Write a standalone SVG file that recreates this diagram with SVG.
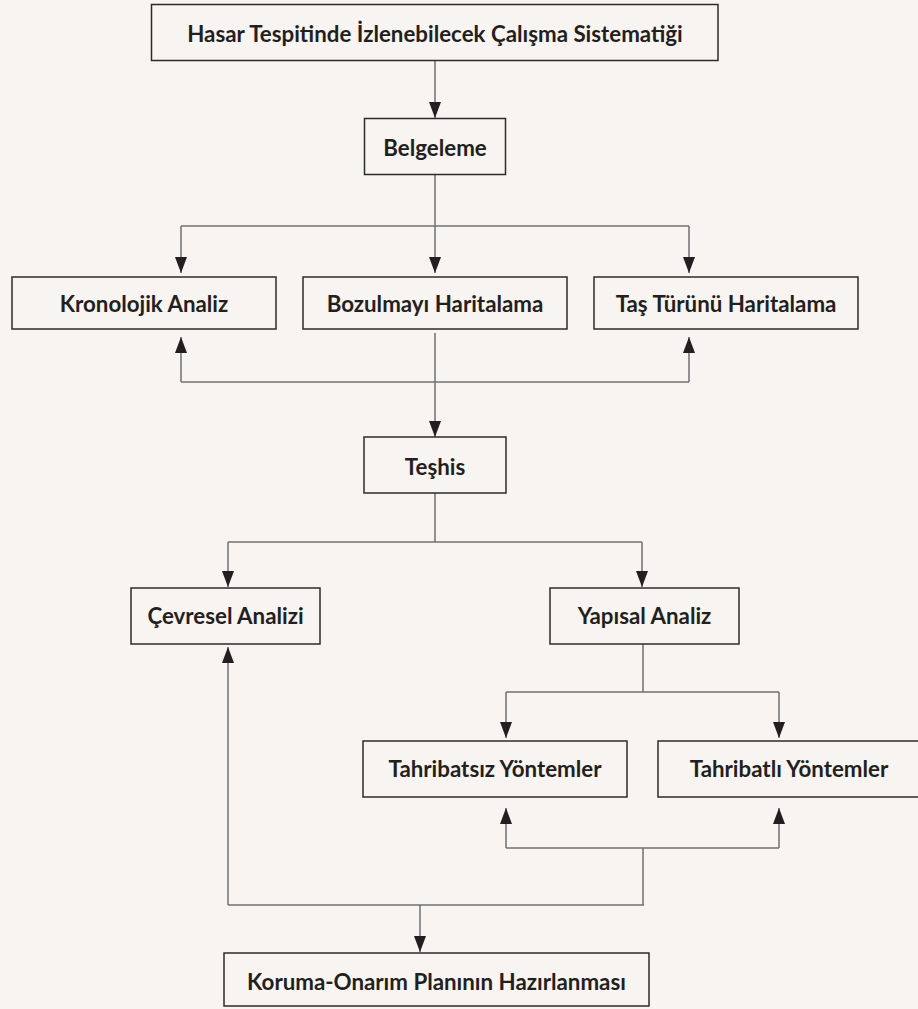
<svg xmlns="http://www.w3.org/2000/svg" width="918" height="1009" viewBox="0 0 918 1009">
<defs>
<marker id="ah" markerUnits="userSpaceOnUse" markerWidth="16" markerHeight="12" refX="16" refY="6" orient="auto">
<path d="M0,0 L16,6 L0,12 z" fill="#231f20"/>
</marker>
<style>
.box{fill:#f8f4f1;stroke:#2b2b2b;stroke-width:1.5}
.lbl{font-family:Lato,"Open Sans",sans-serif;font-weight:700;font-size:22.3px;fill:#231f20;text-anchor:middle}
.ln{fill:none;stroke:#707070;stroke-width:1.5}
.ar{fill:none;stroke:#707070;stroke-width:1.5;marker-end:url(#ah)}
</style>
</defs>
<rect width="918" height="1009" fill="#f8f4f1"/>
<g id="connectors">
<path class="ar" d="M435,60.5 V118"/>
<path class="ln" d="M435,174.5 V226 M181,226 H689"/>
<path class="ar" d="M181,226 V273"/>
<path class="ar" d="M435,226 V273"/>
<path class="ar" d="M689,226 V273"/>
<path class="ln" d="M181,382 H689"/>
<path class="ar" d="M181,382 V337"/>
<path class="ar" d="M689,382 V337"/>
<path class="ar" d="M435,333 V437"/>
<path class="ln" d="M435,493 V542 M228,542 H642"/>
<path class="ar" d="M228,542 V587"/>
<path class="ar" d="M642,542 V587"/>
<path class="ln" d="M643,644 V692 M506,692 H779"/>
<path class="ar" d="M506,692 V738"/>
<path class="ar" d="M779,692 V738"/>
<path class="ln" d="M506,848 H779 M643,848 V905 M228,905 H644"/>
<path class="ar" d="M506,848 V808"/>
<path class="ar" d="M779,848 V808"/>
<path class="ar" d="M228,905 V647"/>
<path class="ar" d="M420,905 V952"/>
</g>
<g id="n-title"><rect class="box" x="151.5" y="4.5" width="566.5" height="56"/><text class="lbl" x="435" y="41.5">Hasar Tespitinde İzlenebilecek Çalışma Sistematiği</text></g>
<g id="n-belgeleme"><rect class="box" x="364.5" y="118.5" width="141" height="56"/><text class="lbl" x="435" y="156">Belgeleme</text></g>
<g id="n-kronolojik"><rect class="box" x="12" y="277" width="264" height="52"/><text class="lbl" x="144" y="311.5">Kronolojik Analiz</text></g>
<g id="n-bozulma"><rect class="box" x="303" y="277" width="264" height="52"/><text class="lbl" x="435" y="311.5">Bozulmayı Haritalama</text></g>
<g id="n-tas"><rect class="box" x="594" y="277" width="264" height="52"/><text class="lbl" x="726" y="311.5">Taş Türünü Haritalama</text></g>
<g id="n-teshis"><rect class="box" x="364" y="437" width="142" height="56"/><text class="lbl" x="435" y="475">Teşhis</text></g>
<g id="n-cevresel"><rect class="box" x="131" y="588" width="189" height="56"/><text class="lbl" x="225.5" y="624">Çevresel Analizi</text></g>
<g id="n-yapisal"><rect class="box" x="550" y="588" width="189" height="56"/><text class="lbl" x="644.5" y="624">Yapısal Analiz</text></g>
<g id="n-tahribatsiz"><rect class="box" x="363" y="741" width="264" height="56"/><text class="lbl" x="495" y="776.5">Tahribatsız Yöntemler</text></g>
<g id="n-tahribatli"><rect class="box" x="658" y="741" width="264" height="56"/><text class="lbl" x="789" y="776.5">Tahribatlı Yöntemler</text></g>
<g id="n-koruma"><rect class="box" x="224" y="953" width="425" height="53"/><text class="lbl" x="436.5" y="990">Koruma-Onarım Planının Hazırlanması</text></g>
</svg>
